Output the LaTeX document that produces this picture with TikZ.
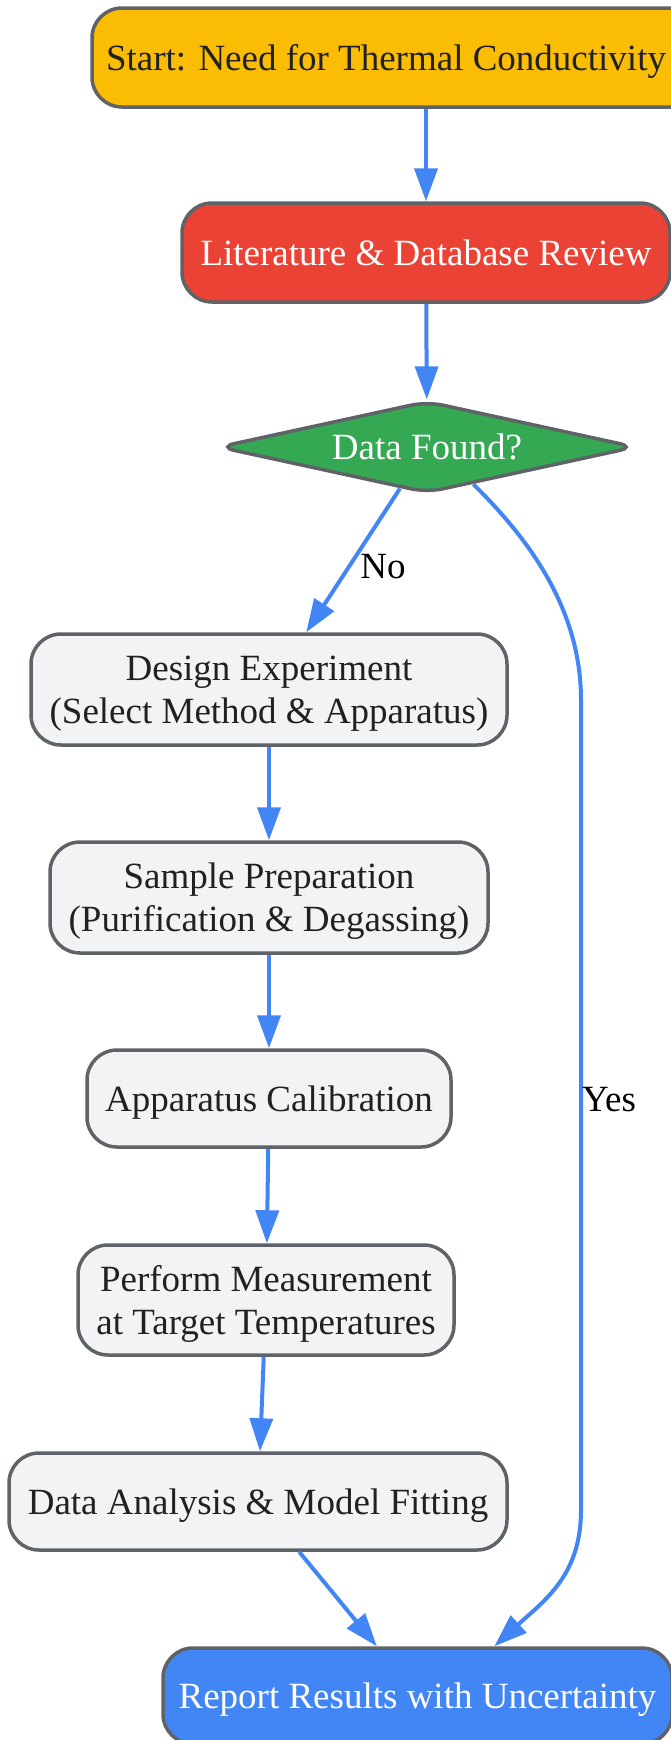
\documentclass[tikz,border=0pt]{standalone}
\usepackage{fontspec}
\setmainfont{Liberation Serif}
\usetikzlibrary{shapes.geometric,arrows.meta,calc}
\definecolor{cyellow}{HTML}{FBBC04}
\definecolor{cred}{HTML}{EA4335}
\definecolor{cgreen}{HTML}{34A853}
\definecolor{cblue}{HTML}{4285F4}
\definecolor{cgray}{HTML}{F1F3F4}
\definecolor{cborder}{HTML}{5F6368}
\definecolor{ctext}{HTML}{202124}
\begin{document}
\begin{tikzpicture}[x=1pt,y=-1pt,
  every node/.style={font=\fontsize{37pt}{43pt}\selectfont},
  box/.style={draw=cborder, line width=3.5pt, rounded corners=30pt, inner sep=0pt, align=center, text=ctext, fill=cgray, text height=33pt, text depth=8pt},
  twoline/.style={text height=76pt, text depth=8pt},
  decision/.style={draw=cborder, line width=3.5pt, diamond, aspect=4.55, inner sep=0pt, rounded corners=16pt, fill=cgreen, text=white, text height=33pt, text depth=8pt},
  edge/.style={draw=cblue, line width=4pt, -{Triangle[length=33pt,width=23pt]}},
  lbl/.style={text=black}]
\useasboundingbox (0,0) rectangle (671,1740);

\node[box, fill=cyellow, minimum width=668pt, minimum height=99pt, text width=640pt, align=flush left] (start) at (426,57.5) {Start: Need for Thermal Conductivity};
\node[box, fill=cred, text=white, minimum width=488pt, minimum height=99pt] (lit) at (426,252.5) {Literature \& Database Review};
\node[decision, minimum width=418pt, minimum height=92pt] (dec) at (427,447) {Data Found?};
\node[box, twoline, minimum width=476pt, minimum height=111pt] (design) at (269,689.5) {Design Experiment\\(Select Method \& Apparatus)};
\node[box, twoline, minimum width=438pt, minimum height=111pt] (sample) at (269,897.5) {Sample Preparation\\(Purification \& Degassing)};
\node[box, minimum width=364pt, minimum height=97pt] (calib) at (269,1098.5) {Apparatus Calibration};
\node[box, twoline, minimum width=376pt, minimum height=110pt] (meas) at (266,1300) {Perform Measurement\\at Target Temperatures};
\node[box, minimum width=498pt, minimum height=97pt] (anal) at (258,1501.5) {Data Analysis \& Model Fitting};
\node[box, fill=cblue, text=white, minimum width=509pt, minimum height=96pt] (report) at (417.5,1696) {Report Results with Uncertainty};

\draw[edge] (start) -- (lit);
\draw[edge] (lit) -- (dec);
\draw[edge] (dec) -- (design);
\node[lbl] (nolbl) at (383,567) {No};
\draw[edge] (design) -- (sample);
\draw[edge] (sample) -- (calib);
\draw[edge] (calib) -- (meas);
\draw[edge] (meas) -- (anal);
\draw[edge] (anal) -- (report);
\draw[edge] ($(dec.south)!0.22!(dec.east)$) .. controls (530,540) and (581,610) .. (581,700) -- (581,1510) .. controls (581,1575) and (545,1600) .. ($(report.north west)!0.65!(report.north east)$);
\node[lbl] (yeslbl) at (609,1100) {Yes};
\end{tikzpicture}
\end{document}
